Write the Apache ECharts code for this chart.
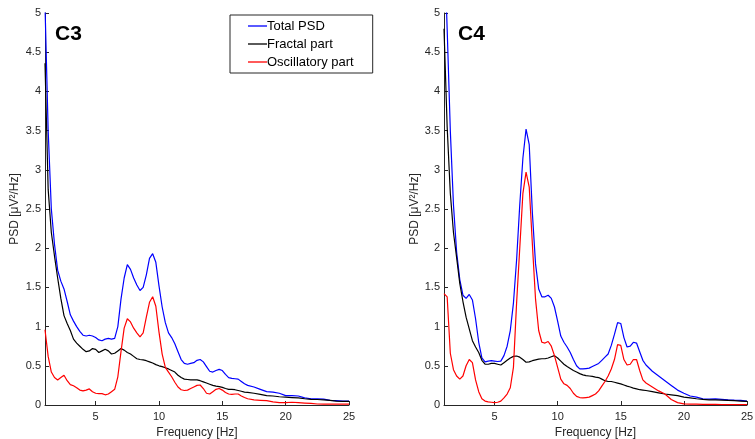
<!DOCTYPE html>
<html>
<head>
<meta charset="utf-8">
<script src="https://cdn.jsdelivr.net/npm/echarts@6/dist/echarts.min.js"></script>
<style>html,body{margin:0;padding:0;background:#fff;}#c{width:755px;height:439px;}</style>
</head>
<body>
<div id="c"></div>
<script>
const freq = [
  1,1.25,1.5,1.75, 2,2.25,2.5,2.75, 3,3.25,3.5,3.75, 4,4.25,4.5,4.75,
  5,5.25,5.5,5.75, 6,6.25,6.5,6.75, 7,7.25,7.5,7.75, 8,8.25,8.5,8.75,
  9,9.25,9.5,9.75, 10,10.25,10.5,10.75, 11,11.25,11.5,11.75, 12,12.25,12.5,12.75,
  13,13.25,13.5,13.75, 14,14.25,14.5,14.75, 15,15.25,15.5,15.75, 16,16.25,16.5,16.75,
  17, 17.5,18,18.5,19,19.5,20,20.5,21,21.5,22,22.5,23,23.5,24,24.5,25
];
const xTicks = [5, 10, 15, 20, 25];
const panelTitles = ['C3', 'C4'];
const seriesNames = ['Total PSD', 'Fractal part', 'Oscillatory part'];

const c3Total = [
  5.1,3.5,2.5,2.05, 1.72,1.58,1.48,1.32, 1.15,1.07,1.00,0.94, 0.89,0.88,0.89,0.88,
  0.86,0.83,0.82,0.84, 0.85,0.84,0.85,1.00, 1.35,1.62,1.79,1.73, 1.62,1.53,1.46,1.50,
  1.66,1.87,1.93,1.82, 1.52,1.25,1.05,0.92, 0.86,0.78,0.68,0.58, 0.53,0.52,0.53,0.54,
  0.57,0.58,0.55,0.49, 0.43,0.42,0.44,0.455, 0.44,0.39,0.35,0.34, 0.335,0.33,0.30,0.27,
  0.25, 0.23,0.20,0.17,0.165,0.15,0.12,0.12,0.115,0.09,0.08,0.08,0.075,0.06,0.055,0.05,0.05
];
const c3Fractal = [
  4.36,2.75,2.2,1.9, 1.62,1.36,1.14,1.04, 0.95,0.84,0.79,0.75, 0.71,0.68,0.69,0.72,
  0.71,0.67,0.69,0.71, 0.69,0.65,0.66,0.69, 0.72,0.70,0.67,0.65, 0.62,0.59,0.58,0.575,
  0.565,0.55,0.535,0.515, 0.50,0.49,0.475,0.46, 0.44,0.42,0.38,0.35, 0.33,0.325,0.32,0.32,
  0.32,0.31,0.295,0.28, 0.265,0.25,0.24,0.235, 0.225,0.21,0.20,0.20, 0.195,0.185,0.175,0.165,
  0.16, 0.15,0.135,0.12,0.115,0.105,0.10,0.095,0.09,0.08,0.072,0.07,0.065,0.06,0.05,0.045,0.045
];
const c3Osc = [
  0.96,0.62,0.42,0.35, 0.32,0.35,0.38,0.31, 0.26,0.245,0.22,0.19, 0.18,0.19,0.205,0.17,
  0.15,0.145,0.145,0.13, 0.14,0.17,0.20,0.36, 0.68,0.98,1.10,1.06, 0.98,0.92,0.87,0.92,
  1.12,1.31,1.38,1.26, 0.93,0.65,0.48,0.42, 0.36,0.29,0.23,0.195, 0.185,0.19,0.21,0.23,
  0.25,0.255,0.21,0.15, 0.14,0.17,0.20,0.21, 0.19,0.16,0.14,0.135, 0.14,0.14,0.115,0.095,
  0.08, 0.065,0.06,0.055,0.04,0.03,0.03,0.035,0.03,0.025,0.02,0.013,0.012,0.01,0.01,0.01,0.01
];

const c4Total = [
  6.0,4.8,3.5,2.55, 1.95,1.6,1.40,1.36, 1.41,1.34,1.10,0.80, 0.60,0.55,0.56,0.565,
  0.56,0.555,0.56,0.63, 0.75,0.95,1.30,1.85, 2.55,3.15,3.52,3.32, 2.45,1.8,1.48,1.38,
  1.38,1.40,1.36,1.25, 1.07,0.88,0.80,0.74, 0.67,0.58,0.50,0.46, 0.46,0.465,0.47,0.49,
  0.51,0.53,0.57,0.61, 0.65,0.76,0.90,1.05, 1.04,0.86,0.74,0.75, 0.80,0.79,0.68,0.57,
  0.51, 0.43,0.37,0.31,0.25,0.19,0.15,0.115,0.10,0.08,0.075,0.078,0.072,0.065,0.062,0.06,0.05
];
const c4Fractal = [
  4.8,3.55,2.7,2.2, 1.88,1.55,1.32,1.12, 0.97,0.82,0.74,0.67, 0.57,0.52,0.52,0.53,
  0.53,0.52,0.51,0.54, 0.57,0.60,0.62,0.625, 0.61,0.58,0.545,0.55, 0.565,0.575,0.585,0.59,
  0.59,0.60,0.615,0.63, 0.60,0.56,0.52,0.49, 0.465,0.44,0.42,0.40, 0.385,0.375,0.37,0.365,
  0.355,0.35,0.33,0.31, 0.30,0.30,0.29,0.28, 0.27,0.255,0.24,0.23, 0.215,0.205,0.195,0.19,
  0.185, 0.17,0.155,0.14,0.13,0.12,0.10,0.09,0.08,0.072,0.065,0.065,0.063,0.06,0.055,0.05,0.045
];
const c4Osc = [
  1.42,1.38,0.66,0.45, 0.37,0.33,0.37,0.50, 0.58,0.54,0.32,0.17, 0.08,0.05,0.04,0.035,
  0.03,0.035,0.05,0.09, 0.14,0.22,0.48,1.30, 2.0,2.70,2.97,2.78, 2.05,1.35,0.95,0.80,
  0.79,0.81,0.75,0.63, 0.48,0.33,0.27,0.25, 0.21,0.15,0.11,0.095, 0.09,0.095,0.10,0.12,
  0.14,0.18,0.24,0.30, 0.37,0.46,0.58,0.77, 0.76,0.58,0.51,0.52, 0.58,0.58,0.44,0.32,
  0.28, 0.23,0.18,0.14,0.07,0.03,0.015,0.012,0.01,0.008,0.008,0.007,0.006,0.006,0.005,0.005,0.005
];

const colors = ['#0000ff', '#000000', '#ff0000'];
const panels = [[c3Total, c3Fractal, c3Osc], [c4Total, c4Fractal, c4Osc]];
const axisColor = '#262626';
const font = '"Liberation Sans", Arial, Helvetica, sans-serif';

const chart = echarts.init(document.getElementById('c'));

const grids = [
  {left: 45, right: 406, top: 13, bottom: 34, containLabel: false, outerBoundsMode: 'none'},
  {left: 444, right: 8, top: 13, bottom: 34, containLabel: false, outerBoundsMode: 'none'}
];
const yNameGaps = [24, 20];

const xAxes = grids.map((g, i) => ({
  type: 'value', gridIndex: i, min: 1, max: 25,
  name: 'Frequency [Hz]', nameLocation: 'middle', nameGap: 20,
  nameTextStyle: {color: axisColor, fontSize: 12, fontFamily: font},
  axisLine: {show: true, lineStyle: {color: axisColor, width: 1}},
  axisTick: {show: true, inside: true, length: 4, lineStyle: {color: axisColor}, customValues: xTicks},
  axisLabel: {color: axisColor, fontSize: 11, fontFamily: font, margin: 6, customValues: xTicks},
  splitLine: {show: false}
}));
const yAxes = grids.map((g, i) => ({
  type: 'value', gridIndex: i, min: 0, max: 5, interval: 0.5,
  name: 'PSD [μV²/Hz]', nameLocation: 'middle', nameGap: yNameGaps[i], nameRotate: 90,
  nameTextStyle: {color: axisColor, fontSize: 12, fontFamily: font},
  axisLine: {show: true, lineStyle: {color: axisColor, width: 1}},
  axisTick: {show: true, inside: true, length: 4, lineStyle: {color: axisColor}},
  axisLabel: {color: axisColor, fontSize: 11, fontFamily: font, margin: 4},
  splitLine: {show: false}
}));

const series = [];
panels.forEach((arrs, p) => {
  arrs.forEach((vals, k) => {
    series.push({
      name: seriesNames[k], type: 'line', xAxisIndex: p, yAxisIndex: p,
      data: freq.map((f, i) => [f, vals[i]]),
      symbol: 'none', smooth: false, clip: true,
      lineStyle: {color: colors[k], width: 1.2},
      itemStyle: {color: colors[k]},
      z: k === 0 ? 2 : (k === 1 ? 3 : 4)
    });
  });
});

chart.setOption({
  animation: false,
  backgroundColor: '#ffffff',
  title: [
    {text: panelTitles[0], left: 55, top: 24, padding: 0, textStyle: {fontSize: 21, fontWeight: 'bold', color: '#000', fontFamily: font}},
    {text: panelTitles[1], left: 458, top: 24, padding: 0, textStyle: {fontSize: 21, fontWeight: 'bold', color: '#000', fontFamily: font}}
  ],
  legend: {
    data: seriesNames.map((n, k) => ({
      name: n,
      icon: 'rect',
      itemStyle: {color: colors[k], borderWidth: 0}
    })),
    orient: 'vertical', left: 230, top: 15,
    backgroundColor: '#fff', borderColor: '#262626', borderWidth: 1,
    padding: [4, 19, 4, 18], itemGap: 4, itemWidth: 19, itemHeight: 1.3,
    textStyle: {fontSize: 13, color: '#000', fontFamily: font, padding: [0,0,0,-5], lineHeight: 14}
  },
  grid: grids,
  xAxis: xAxes,
  yAxis: yAxes,
  series: series
});
</script>
</body>
</html>
